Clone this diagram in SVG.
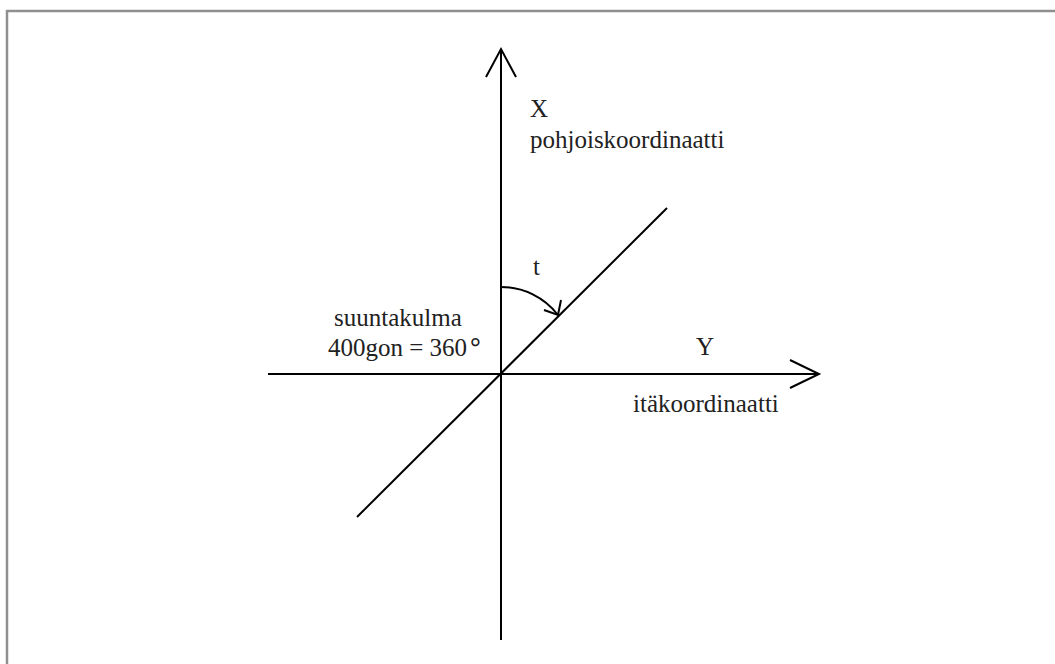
<svg xmlns="http://www.w3.org/2000/svg" width="1055" height="664" viewBox="0 0 1055 664">
<style>
.ax{stroke:#000;stroke-width:2;fill:none;stroke-linecap:butt}
.ah{stroke:#000;stroke-width:2;fill:none;stroke-linejoin:miter}
.lbl{font-family:"Liberation Serif","Times New Roman",serif;font-size:25px;fill:#222}
.frame{stroke:#8f8f8f;stroke-width:2.5;fill:none}
</style>
<rect width="1055" height="664" fill="#fff"/>
<g id="frame">
<path class="frame" d="M7,664 V11 H1055"/>
</g>
<g id="connectors">
<line class="ax" x1="501" y1="49" x2="501" y2="640"/>
<polyline class="ah" points="486,77 501,49 516,77"/>
<line class="ax" x1="268" y1="374" x2="819" y2="374"/>
<polyline class="ah" points="790,360 819,374 790,388"/>
<line class="ax" x1="357" y1="517" x2="667" y2="208"/>
<path class="ax" d="M501,287 A72,72 0 0 1 558,315"/>
<polyline class="ah" points="561,300 558,315 544,310"/>
</g>
<g id="label-x">
<text class="lbl" x="530" y="117">X</text>
<text class="lbl" x="530" y="148">pohjoiskoordinaatti</text>
</g>
<g id="label-y">
<text class="lbl" x="696" y="355">Y</text>
<text class="lbl" x="633" y="412">itäkoordinaatti</text>
</g>
<g id="label-t">
<text class="lbl" x="533" y="275">t</text>
</g>
<g id="label-angle">
<text class="lbl" x="334" y="326">suuntakulma</text>
<text class="lbl" x="328" y="356">400gon = 360<tspan font-weight="bold" dx="3" font-size="27">°</tspan></text>
</g>
</svg>
